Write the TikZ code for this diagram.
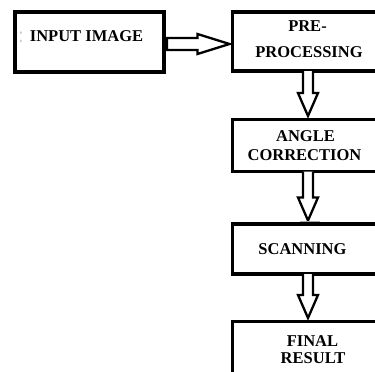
\documentclass[tikz,border=0pt]{standalone}
\usepackage{fontspec}
\setmainfont{Liberation Serif}
\usetikzlibrary{calc}
\begin{document}
\begin{tikzpicture}[x=1pt,y=-1pt,
  box/.style={draw, line width=3.1pt, inner sep=0pt, outer sep=0pt},
  lbl/.style={font=\bfseries\fontsize{16.5}{18}\selectfont, inner sep=0pt, anchor=base},
  barrow/.style={draw, line width=2.3pt, fill=white, line join=miter},
  stray/.style={draw=black!35, line width=1pt}]
\clip (0,0) rectangle (375,372);
\fill[white] (0,0) rectangle (375,372);
% boxes
\node[box, minimum width=149pt, minimum height=60pt] (in) at (89.5,42) {};
\node[box, minimum width=151pt, minimum height=59pt] (pre) at (308,41.5) {};
\node[box, minimum width=151pt, minimum height=52pt] (ang) at (308,145.5) {};
\node[box, minimum width=151pt, minimum height=50pt] (scan) at (308,249) {};
\node[box, minimum width=151pt, minimum height=78pt] (fin) at (308,360.5) {};
% labels
\node[lbl] (tin) at (86.5,41) {INPUT IMAGE};
\node[lbl] (tpre1) at (307.5,31) {PRE-};
\node[lbl] (tpre2) at (309,57) {PROCESSING};
\node[lbl] (tang1) at (305.5,141) {ANGLE};
\node[lbl] (tang2) at (304.5,160) {CORRECTION};
\node[lbl] (tscan) at (302.5,254) {SCANNING};
\node[lbl] (tfin1) at (312.5,346) {FINAL};
\node[lbl] (tfin2) at (313,363) {RESULT};
\node[font=\fontsize{12}{12}\selectfont, text=black!30, inner sep=0pt] (dots) at (21,37) {\scalebox{1}[1.9]{:}};
% horizontal block arrow
\draw[barrow] let \p1=($(in.east)+(3,2)$), \p2=($(pre.west)+(-3,0)$) in
  (\x1,\y1+6pt) -- (\x2-32pt,\y1+6pt) -- (\x2-32pt,\y1+10pt) -- (\x2,\y1)
  -- (\x2-32pt,\y1-10pt) -- (\x2-32pt,\y1-6pt) -- (\x1,\y1-6pt) -- cycle;
% vertical block arrows
\foreach \a/\b in {pre/ang, ang/scan, scan/fin}{
  \draw[barrow] let \p1=(\a.south), \p2=($(\b.north)+(0,-3.5)$) in
    (\x1-5pt,\y1) -- (\x1-5pt,\y2+23pt) -- (\x1-10pt,\y2+23pt) -- (\x1,\y2)
    -- (\x1+10pt,\y2+23pt) -- (\x1+5pt,\y2+23pt) -- (\x1+5pt,\y1);
}
\coordinate (u1) at ($(scan.north)+(-8,-3)$);
\coordinate (u2) at ($(scan.north)+(12,-3)$);
\draw[stray] (u1) -- (u2);
\end{tikzpicture}
\end{document}
